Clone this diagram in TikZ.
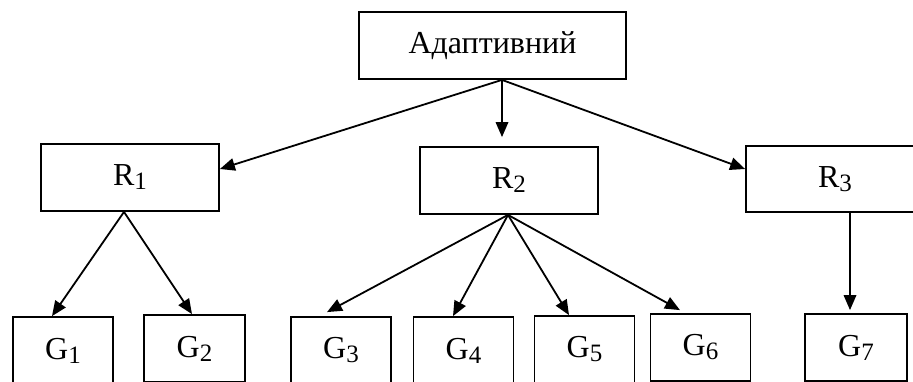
\documentclass[tikz,border=0pt]{standalone}
\usepackage{fontspec}
\setmainfont{Liberation Serif}
\usetikzlibrary{arrows.meta}
\newcommand\lowsub[1]{\raisebox{-4pt}{\fontsize{25}{25}\selectfont #1}}
\begin{document}
\begin{tikzpicture}[x=1pt,y=-1pt,
  box/.style={draw, line width=1.8pt, inner sep=0pt, align=center,
    font=\fontsize{32}{38}\selectfont},
  rbox/.style={box, minimum width=178pt, minimum height=67pt},
  gbox/.style={box, minimum width=100pt, minimum height=67pt},
  arr/.style={line width=1.8pt, -{Triangle[length=15pt,width=12.5pt]}}]
\useasboundingbox (0,0) rectangle (913,381);
\fill[white] (0,0) rectangle (913,381);
\clip (0,0) rectangle (913,381);
% boxes
\node[box, minimum width=267pt, minimum height=67pt] (top) at (492.5,45.5) {Адаптивний};
\node[rbox] (R1) at (130,177.5) {R\lowsub{1}};
\node[rbox] (R2) at (509,180.5) {R\lowsub{2}};
\node[rbox, minimum height=66pt] (R3) at (835,179) {R\lowsub{3}};
\node[gbox] (G1) at (63,350.5) {G\lowsub{1}};
\node[gbox, minimum width=101pt] (G2) at (194.5,348.5) {G\lowsub{2}};
\node[gbox] (G3) at (341,350.5) {G\lowsub{3}};
\node[gbox] (G4) at (463.5,350.5) {G\lowsub{4}};
\node[gbox] (G5) at (584.5,349.5) {G\lowsub{5}};
\node[gbox] (G6) at (700.5,347.5) {G\lowsub{6}};
\node[gbox, minimum width=102pt] (G7) at (856,347.5) {G\lowsub{7}};
% connectors
\coordinate (t0) at ([xshift=9.5pt]top.south);
\draw[arr] (t0) -- ([yshift=8.5pt]R1.east);
\draw[arr] (t0) -- ([xshift=-7pt,yshift=9pt]R2.north);
\draw[arr] (t0) -- ([yshift=10pt]R3.west);
\coordinate (r1) at ([xshift=-6pt]R1.south);
\draw[arr] (r1) -- ([xshift=-11pt]G1.north);
\draw[arr] (r1) -- ([xshift=-2.5pt]G2.north);
\coordinate (r2) at ([xshift=-1pt]R2.south);
\draw[arr] (r2) -- ([xshift=-14pt,yshift=4pt]G3.north);
\draw[arr] (r2) -- ([xshift=-10.5pt]G4.north);
\draw[arr] (r2) -- ([xshift=-15.5pt]G5.north);
\draw[arr] (r2) -- ([xshift=-20.5pt,yshift=3pt]G6.north);
\draw[arr] ([xshift=15pt]R3.south) -- ([xshift=-6pt,yshift=3pt]G7.north);
\end{tikzpicture}
\end{document}
